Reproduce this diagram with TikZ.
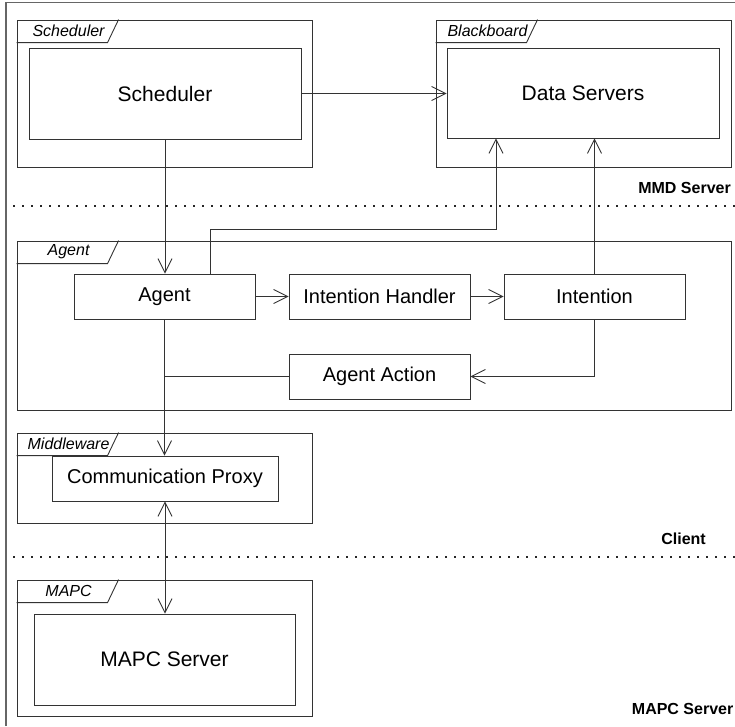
\documentclass[tikz,border=0pt]{standalone}
\usepackage{fontspec}
\setmainfont{Liberation Sans}
\usetikzlibrary{arrows.meta}

\tikzset{
  ln/.style={draw=black!80, line width=0.9pt},
  box/.style={ln, rectangle, inner sep=0pt, fill=white},
  bigbox/.style={box, font=\fontsize{21}{24}\selectfont},
  smallbox/.style={box, font=\fontsize{20}{23}\selectfont, minimum width=181pt, minimum height=45pt},
  pkg/.style={ln, rectangle, inner sep=0pt},
  tablabel/.style={font=\fontsize{16}{18}\selectfont\itshape, inner sep=0pt},
  layer/.style={font=\fontsize{16}{18}\selectfont\bfseries, inner sep=0pt, anchor=east},
  sep/.style={draw=black!85, line width=1.5pt, dash pattern=on 1.5pt off 7.5pt},
  arr/.style={ln, -{Straight Barb[length=14pt, width=14pt, line width=0.9pt]}},
  biarr/.style={ln, {Straight Barb[length=14pt, width=14pt, line width=0.9pt]}-{Straight Barb[length=14pt, width=14pt, line width=0.9pt]}},
}

% package frame: rectangle with a slanted name tab in its upper left corner
\newcommand\pkgtab[2]{%
  \draw[ln] ([yshift=-23pt]#1.north west) -- ++(91pt,0) -- ++(11pt,23pt);
  \node[tablabel] at ([xshift=52pt, yshift=-11.5pt]#1.north west) {#2};
}

\begin{document}
\begin{tikzpicture}[x=1pt, y=-1pt]
  \useasboundingbox (0,0) rectangle (735,726);

  % outer frame
  \draw[draw=black!60, line width=1.1pt] (6,726) -- (6,2.5) -- (740,2.5);

  % packages
  \node[pkg, minimum width=295pt, minimum height=147pt] (pkgSched) at (164.5,93.5) {};
  \pkgtab{pkgSched}{Scheduler}
  \node[pkg, minimum width=295pt, minimum height=147pt] (pkgBoard) at (583.5,93.5) {};
  \pkgtab{pkgBoard}{Blackboard}
  \node[pkg, minimum width=714pt, minimum height=169pt] (pkgAgent) at (374,325.5) {};
  \pkgtab{pkgAgent}{Agent}
  \node[pkg, minimum width=295pt, minimum height=90pt] (pkgMid) at (164.5,478) {};
  \pkgtab{pkgMid}{Middleware}
  \node[pkg, minimum width=295pt, minimum height=136pt] (pkgMapc) at (164.5,648) {};
  \pkgtab{pkgMapc}{MAPC}

  % layer separators and their names
  \draw[sep] (13,206) -- (735,206);
  \draw[sep] (13,557) -- (735,557);
  \node[layer] (lMmd) at (731,188) {MMD Server};
  \node[layer] (lClient) at (706,539) {Client};
  \node[layer] (lMapc) at (733.5,709) {MAPC Server};

  % components
  \node[bigbox, minimum width=272pt, minimum height=91pt] (sched) at (165,93.5) {Scheduler};
  \node[bigbox, minimum width=272pt, minimum height=90pt] (data) at (583,93) {Data Servers};
  \node[smallbox] (agent) at (164.5,296.5) {Agent};
  \node[smallbox] (ih) at (379.5,296.5) {Intention Handler};
  \node[smallbox] (intent) at (594.5,296.5) {Intention};
  \node[smallbox] (action) at (379.5,376.5) {Agent Action};
  \node[box, font=\fontsize{20}{23}\selectfont, minimum width=226pt, minimum height=45pt] (proxy) at (165,478.5) {Communication Proxy};
  \node[bigbox, minimum width=261pt, minimum height=91pt] (mapc) at (164.5,659.5) {MAPC Server};

  % connectors
  \coordinate (up) at (210,229);
  \draw[arr] (sched.east) -- (sched.east -| data.west);
  \draw[arr] (sched.south) -- (sched.south |- agent.north);
  \draw[arr] (agent.north -| up) -- (up) -| ([xshift=-87pt]data.south);
  \draw[arr] (intent.north) -- (intent.north |- data.south);
  \draw[arr] (agent.east) -- (ih.west);
  \draw[arr] (ih.east) -- (intent.west);
  \draw[arr] (intent.south) |- (action.east);
  \draw[ln] (action.west) -- (action.west -| agent.south);
  \draw[arr] (agent.south) -- (agent.south |- proxy.north);
  \draw[biarr] (proxy.south) -- (proxy.south |- mapc.north);
\end{tikzpicture}
\end{document}
